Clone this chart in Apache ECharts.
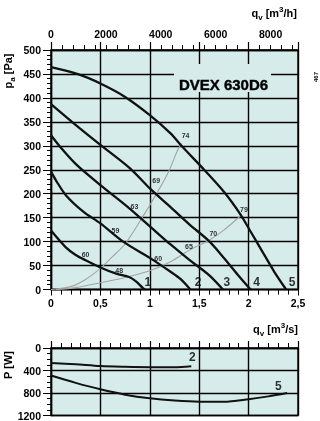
<!DOCTYPE html>
<html><head><meta charset="utf-8">
<script src="https://cdn.jsdelivr.net/npm/echarts@6/dist/echarts.min.js"></script>
<style>html,body{margin:0;padding:0;background:#fff}#c{width:320px;height:421px;will-change:transform;opacity:0.999}</style>
</head><body><div id="c"></div>
<script>
// Pressure curves p_a [Pa] vs q_v [m3/s]
const curve1 = [[0,123],[0.15,88],[0.25,72],[0.35,61],[0.5,46],[0.66,33],[0.79,26],[0.86,17],[0.93,3],[0.95,0]];
const curve2 = [[0,246],[0.05,228],[0.15,197],[0.33,162],[0.5,138],[0.73,100],[1.0,66],[1.21,37],[1.31,22],[1.41,0]];
const curve3 = [[0,322],[0.1,296],[0.26,260],[0.5,218],[0.79,170],[1.06,121],[1.21,94],[1.4,62],[1.6,30],[1.74,0]];
const curve4 = [[0,387],[0.23,347],[0.5,302],[0.8,253],[1.0,211],[1.21,172],[1.4,136],[1.6,101],[1.75,66],[1.89,31],[2.02,0]];
const curve5 = [[0,464],[0.28,449],[0.5,430],[0.75,402],[1.0,364],[1.21,326],[1.33,298],[1.55,250],[1.75,204],[1.92,156],[2.02,121],[2.12,86],[2.26,37],[2.38,0]];
// Gray efficiency guide lines
const gray1 = [[0,0],[0.2,6],[0.35,21],[0.5,44],[0.62,68],[0.754,96],[0.92,149],[1.06,197],[1.19,246],[1.28,290],[1.32,305]];
const gray2 = [[0.05,0],[0.25,4],[0.5,14],[0.75,25],[1.0,39],[1.21,58],[1.4,82],[1.6,103],[1.75,124],[1.93,156]];
// Efficiency labels [x, y, text]
const effLabels = [[0.35,74,'60'],[0.69,39,'48'],[0.652,124,'59'],[0.845,174,'63'],[1.065,227,'69'],[1.362,322,'74'],[1.085,65,'60'],[1.396,89,'65'],[1.643,117,'70'],[1.953,168,'79']];
// Curve number labels [x, y, text]
const curveLabels = [[0.98,15,'1'],[1.49,15,'2'],[1.78,15,'3'],[2.08,15,'4'],[2.44,16,'5']];
// Power curves P [W]
const power2 = [[0,265],[0.25,290],[0.5,322],[0.75,335],[1.0,342],[1.25,342],[1.42,325]];
const power5 = [[0,490],[0.25,620],[0.5,735],[0.75,830],[1.0,895],[1.25,935],[1.5,955],[1.75,955],[2.0,910],[2.2,860],[2.39,800]];
const powerLabels = [[1.43,165,'2'],[2.30,675,'5']];
// Axis ticks
const qsTicks = [0,0.5,1,1.5,2,2.5];
const qhTicks = [0,2000,4000,6000,8000];
const paTicks = [0,50,100,150,200,250,300,350,400,450,500];
const pwTicks = [0,400,800,1200];

const BG = '#d6ecea';
const FONT = 'Liberation Sans';
const tickFont = {fontFamily: FONT, fontWeight: 'bold', fontSize: 10.5, color: '#000'};
const blackLine = {color: '#000', width: 1.4};

const chart = echarts.init(document.getElementById('c'), null, {renderer: 'svg'});

function curveSeries(data) {
  return {type: 'line', data: data, xAxisIndex: 0, yAxisIndex: 0, showSymbol: false, symbol: 'none',
    smooth: 0.3, lineStyle: {color: '#111', width: 2.3}, z: 5, silent: true};
}
function graySeries(data) {
  return {type: 'line', data: data, xAxisIndex: 0, yAxisIndex: 0, showSymbol: false, symbol: 'none',
    smooth: 0.3, lineStyle: {color: '#a4a4a4', width: 1.1}, z: 4, silent: true};
}
function labelSeries(data, xi, yi, size) {
  return {type: 'scatter', data: data, xAxisIndex: xi, yAxisIndex: yi, symbolSize: 0, z: 10, silent: true,
    itemStyle: {color: '#000'},
    label: {show: true, position: 'inside', formatter: p => p.value[2], fontFamily: FONT,
      fontWeight: 'bold', fontSize: size, color: '#000', textBorderWidth: 0}};
}
function powerSeries(data) {
  return {type: 'line', data: data, xAxisIndex: 3, yAxisIndex: 1, showSymbol: false, symbol: 'none',
    smooth: 0.3, lineStyle: {color: '#111', width: 2}, z: 5, silent: true};
}

const option = {
  animation: false,
  backgroundColor: '#fff',
  grid: [
    {left: 51, right: 22, top: 50, height: 239.5, show: true, backgroundColor: BG, borderColor: '#000', borderWidth: 1.4},
    {left: 51, right: 22, top: 348, height: 68.5, show: true, backgroundColor: BG, borderColor: '#000', borderWidth: 1.4}
  ],
  xAxis: [
    {type: 'value', gridIndex: 0, position: 'bottom', min: qsTicks[0], max: qsTicks[qsTicks.length-1], interval: 0.5,
      axisLine: {show: true, lineStyle: blackLine}, axisTick: {show: true, length: 6, lineStyle: {color: '#000', width: 1}},
      minorTick: {show: true, splitNumber: 5, length: 5, lineStyle: {color: '#000', width: 1}},
      splitLine: {show: true, lineStyle: {color: '#000', width: 1.4}},
      axisLabel: Object.assign({margin: 8, formatter: v => String(v).replace('.', ',')}, tickFont)},
    {type: 'value', gridIndex: 0, position: 'top', min: 0, max: 9000, interval: 2000,
      axisLine: {show: true, lineStyle: blackLine}, axisTick: {show: true, length: 5, lineStyle: {color: '#000', width: 1}},
      minorTick: {show: true, splitNumber: 5, length: 5, lineStyle: {color: '#000', width: 1}},
      splitLine: {show: false},
      axisLabel: Object.assign({margin: 11, showMaxLabel: false, formatter: v => qhTicks.indexOf(v) >= 0 ? String(v) : ''}, tickFont)},
    {type: 'value', gridIndex: 0, position: 'top', min: 0, max: 2.5, interval: 0.5,
      axisLine: {show: false}, axisTick: {show: true, length: 8, lineStyle: {color: '#000', width: 1.2}},
      splitLine: {show: false}, axisLabel: {show: false}},
    {type: 'value', gridIndex: 1, position: 'top', min: 0, max: 2.5, interval: 0.5,
      axisLine: {show: true, lineStyle: blackLine}, axisTick: {show: true, length: 7, lineStyle: {color: '#000', width: 1.2}},
      minorTick: {show: true, splitNumber: 5, length: 5, lineStyle: {color: '#000', width: 1}},
      splitLine: {show: true, lineStyle: {color: '#000', width: 1.4}}, axisLabel: {show: false}}
  ],
  yAxis: [
    {type: 'value', gridIndex: 0, min: 0, max: 500, interval: 50,
      axisLine: {show: true, lineStyle: blackLine}, axisTick: {show: true, length: 8, lineStyle: {color: '#000', width: 1}},
      minorTick: {show: true, splitNumber: 5, length: 4, lineStyle: {color: '#000', width: 1}},
      splitLine: {show: true, lineStyle: {color: '#000', width: 1.4}},
      axisLabel: Object.assign({margin: 10, formatter: v => paTicks.indexOf(v) >= 0 ? String(v) : ''}, tickFont)},
    {type: 'value', gridIndex: 1, min: 0, max: 1200, interval: 400, inverse: true,
      axisLine: {show: true, lineStyle: blackLine}, axisTick: {show: true, length: 8, lineStyle: {color: '#000', width: 1}},
      minorTick: {show: true, splitNumber: 4, length: 4, lineStyle: {color: '#000', width: 1}},
      splitLine: {show: true, lineStyle: {color: '#000', width: 1.4}},
      axisLabel: Object.assign({margin: 10, formatter: v => pwTicks.indexOf(v) >= 0 ? String(v) : ''}, tickFont)}
  ],
  series: [
    graySeries(gray1), graySeries(gray2),
    curveSeries(curve1), curveSeries(curve2), curveSeries(curve3), curveSeries(curve4), curveSeries(curve5),
    labelSeries(effLabels, 0, 0, 7),
    labelSeries(curveLabels, 0, 0, 12),
    powerSeries(power2), powerSeries(power5),
    labelSeries(powerLabels, 3, 1, 12)
  ],
  graphic: [
    {type: 'rect', z: 50, shape: {x: 174, y: 64, width: 97, height: 28}, style: {fill: BG}},
    {type: 'text', z: 51, x: 223.5, y: 84, style: {text: 'DVEX 630D6', font: 'bold 15px "Liberation Sans"',
      fill: '#000', stroke: '#000', lineWidth: 0.4, align: 'center', verticalAlign: 'middle', textAlign: 'center', textVerticalAlign: 'middle'}},
    {type: 'text', z: 51, x: 297, y: 13, style: {
      text: '{m|q}{s|v}{m| [m}{p|3}{m|/h]}', fill: '#000', align: 'right', verticalAlign: 'middle', textAlign: 'right', textVerticalAlign: 'middle',
      rich: {m: {fontFamily: FONT, fontWeight: 'bold', fontSize: 11, lineHeight: 16, verticalAlign: 'middle'},
             s: {fontFamily: FONT, fontWeight: 'bold', fontSize: 8, lineHeight: 16, verticalAlign: 'bottom'},
             p: {fontFamily: FONT, fontWeight: 'bold', fontSize: 8, lineHeight: 16, verticalAlign: 'top'}}}},
    {type: 'text', z: 51, x: 298, y: 329, style: {
      text: '{m|q}{s|v}{m| [m}{p|3}{m|/s]}', fill: '#000', align: 'right', verticalAlign: 'middle', textAlign: 'right', textVerticalAlign: 'middle',
      rich: {m: {fontFamily: FONT, fontWeight: 'bold', fontSize: 11, lineHeight: 16, verticalAlign: 'middle'},
             s: {fontFamily: FONT, fontWeight: 'bold', fontSize: 8, lineHeight: 16, verticalAlign: 'bottom'},
             p: {fontFamily: FONT, fontWeight: 'bold', fontSize: 8, lineHeight: 16, verticalAlign: 'top'}}}},
    {type: 'text', z: 51, x: 8, y: 71, rotation: Math.PI / 2, style: {
      text: '{m|p}{s|a}{m| [Pa]}', fill: '#000', align: 'center', verticalAlign: 'middle', textAlign: 'center', textVerticalAlign: 'middle',
      rich: {m: {fontFamily: FONT, fontWeight: 'bold', fontSize: 11, lineHeight: 16, verticalAlign: 'middle'},
             s: {fontFamily: FONT, fontWeight: 'bold', fontSize: 8, lineHeight: 16, verticalAlign: 'bottom'}}}},
    {type: 'text', z: 51, x: 8, y: 365, rotation: Math.PI / 2, style: {
      text: 'P [W]', font: 'bold 11px "Liberation Sans"', fill: '#000', align: 'center', verticalAlign: 'middle', textAlign: 'center', textVerticalAlign: 'middle'}},
    {type: 'text', z: 51, x: 316, y: 77, rotation: Math.PI / 2, style: {
      text: '467', font: 'bold 6px "Liberation Sans"', fill: '#000', align: 'center', verticalAlign: 'middle', textAlign: 'center', textVerticalAlign: 'middle'}}
  ]
};
chart.setOption(option);
</script>
</body></html>
